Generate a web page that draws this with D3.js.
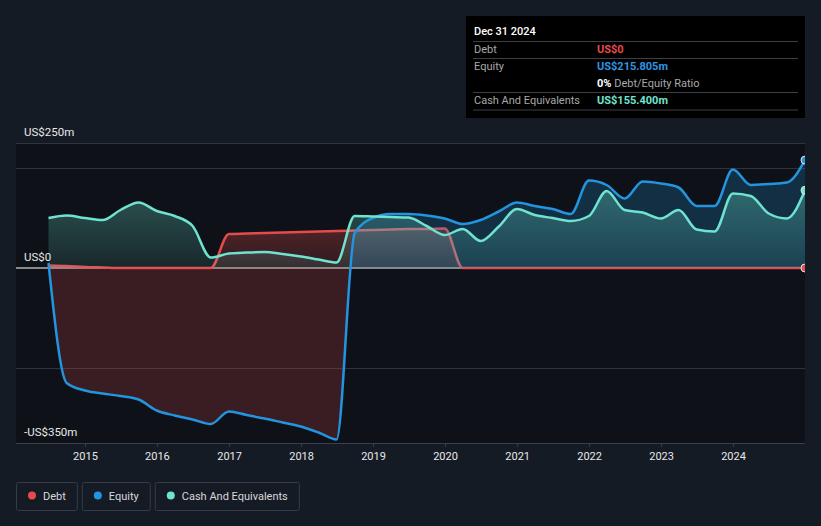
<!DOCTYPE html>
<meta charset="utf-8">
<script src="https://d3js.org/d3.v7.min.js"></script>
<style>
  html, body { margin: 0; padding: 0; background: #151b25; }
  svg { display: block; font-family: "Roboto", sans-serif; }
</style>
<div id="page"></div>
<script>

  // Quarter-end dates and the three series (US$ m)
  var dates = [
    "2014-06-30", "2014-09-30", "2014-12-31",
    "2015-03-31", "2015-06-30", "2015-09-30", "2015-12-31",
    "2016-03-31", "2016-06-30", "2016-09-30", "2016-12-31",
    "2017-03-31", "2017-06-30", "2017-09-30", "2017-12-31",
    "2018-03-31", "2018-06-30", "2018-09-30", "2018-12-31",
    "2019-03-31", "2019-06-30", "2019-09-30", "2019-12-31",
    "2020-03-31", "2020-06-30", "2020-09-30", "2020-12-31",
    "2021-03-31", "2021-06-30", "2021-09-30", "2021-12-31",
    "2022-03-31", "2022-06-30", "2022-09-30", "2022-12-31",
    "2023-03-31", "2023-06-30", "2023-09-30", "2023-12-31",
    "2024-03-31", "2024-06-30", "2024-09-30", "2024-12-31"
  ];

  var debt = [
    5, 4, 2,
    1, 0, 0, 0,
    0, 0, 0, 68,
    69, 70, 71, 72,
    73, 74, 75, 76,
    77, 78, 78, 79,
    0, 0, 0, 0,
    0, 0, 0, 0,
    0, 0, 0, 0,
    0, 0, 0, 0,
    0, 0, 0, 0
  ];

  var equity = [
    10, -230, -245,
    -251, -256, -263, -285,
    -295, -303, -312, -287,
    -294, -301, -309, -317,
    -329, -343, 70, 100,
    108, 108, 105, 99,
    88, 96, 113, 131,
    124, 118, 108, 175,
    166, 139, 173, 169,
    161, 124, 124, 197,
    166, 168, 171, 215.805
  ];

  var cash = [
    100, 105, 100,
    96, 116, 131, 114,
    104, 84, 21, 29,
    31, 32, 28, 23,
    17, 11, 104, 103,
    102, 101, 84, 66,
    78, 54, 83, 118,
    106, 100, 94, 104,
    154, 116, 111, 99,
    116, 77, 73, 149,
    144, 109, 99, 155.4
  ];

  var yGridValues = [250, 200, -200, -350];
  var yLabelValues = [250, 0, -350];
  var legendNames = ["Debt", "Equity", "Cash And Equivalents"];

  var colors = { debt: "#e64b4b", equity: "#2394df", cash: "#6fe3cf" };

  var W = 821, H = 526;
  var plot = { left: 16, right: 805, top: 143, bottom: 443 };

  var parse = d3.utcParse("%Y-%m-%d");
  var rows = dates.map(function (d, i) {
    return { date: parse(d), debt: debt[i], equity: equity[i], cash: cash[i] };
  });

  var x = d3.scaleUtc()
    .domain([parse(dates[0]), parse(dates[dates.length - 1])])
    .range([48.5, plot.right]);

  var y = d3.scaleLinear()
    .domain([-350, 250])
    .range([plot.bottom, plot.top]);

  var svg = d3.select("#page")
    .append("svg")
    .attr("width", W)
    .attr("height", H);

  var defs = svg.append("defs");

  defs.append("clipPath").attr("id", "plotClip")
    .append("rect")
    .attr("x", plot.left).attr("y", plot.top - 10)
    .attr("width", plot.right - plot.left).attr("height", plot.bottom - plot.top + 10);

  defs.append("clipPath").attr("id", "posClip")
    .append("rect")
    .attr("x", plot.left).attr("y", plot.top - 10)
    .attr("width", plot.right - plot.left).attr("height", y(0) - plot.top + 10);

  defs.append("clipPath").attr("id", "negClip")
    .append("rect")
    .attr("x", plot.left).attr("y", y(0))
    .attr("width", plot.right - plot.left).attr("height", plot.bottom - y(0));

  function gradient(id, color, top, bottom) {
    var g = defs.append("linearGradient").attr("id", id)
      .attr("x1", 0).attr("y1", 0).attr("x2", 0).attr("y2", 1);
    g.append("stop").attr("offset", "0%").attr("stop-color", color).attr("stop-opacity", top);
    g.append("stop").attr("offset", "100%").attr("stop-color", color).attr("stop-opacity", bottom);
  }
  gradient("cashGrad", colors.cash, 0.32, 0.1);
  gradient("debtGrad", colors.debt, 0.3, 0.15);

  // plot background
  svg.append("rect")
    .attr("x", plot.left).attr("y", plot.top)
    .attr("width", plot.right - plot.left).attr("height", plot.bottom - plot.top)
    .attr("fill", "#0e1218");

  // gridlines
  svg.append("g")
    .selectAll("line")
    .data(yGridValues)
    .enter()
    .append("line")
    .attr("x1", plot.left).attr("x2", plot.right)
    .attr("y1", function (d) { return y(d) + 0.5; })
    .attr("y2", function (d) { return y(d) + 0.5; })
    .attr("stroke", "#2e333c")
    .attr("stroke-width", 1);

  // zero line
  svg.append("line")
    .attr("x1", plot.left).attr("x2", plot.right)
    .attr("y1", y(0)).attr("y2", y(0))
    .attr("stroke", "#ffffff")
    .attr("stroke-width", 1.2);

  // y labels
  svg.append("g")
    .selectAll("text")
    .data(yLabelValues)
    .enter()
    .append("text")
    .attr("x", 24)
    .attr("y", function (d) { return y(d) - 7; })
    .attr("fill", "#e8e8e8")
    .attr("font-size", "11.5px")
    .text(function (d) {
      return d === 0 ? "US$0" : (d < 0 ? "-US$" + (-d) + "m" : "US$" + d + "m");
    });

  // x axis
  var xAxis = svg.append("g")
    .attr("transform", "translate(0," + plot.bottom + ")")
    .call(d3.axisBottom(x)
      .ticks(d3.utcYear.every(1))
      .tickFormat(d3.utcFormat("%Y"))
      .tickSize(4)
      .tickPadding(5));
  xAxis.select(".domain").remove();
  xAxis.selectAll(".tick line").attr("stroke", "#3a3f48");
  xAxis.selectAll(".tick text")
    .attr("fill", "#e8e8e8")
    .attr("font-size", "11px")
    .attr("font-family", "Roboto, sans-serif");
  svg.append("line")
    .attr("x1", plot.left).attr("x2", plot.right)
    .attr("y1", plot.bottom + 0.5).attr("y2", plot.bottom + 0.5)
    .attr("stroke", "#3a3f48");

  var series = svg.append("g").attr("clip-path", "url(#plotClip)");
  var curve = d3.curveMonotoneX;

  function area(key) {
    return d3.area().curve(curve)
      .x(function (d) { return x(d.date); })
      .y0(y(0))
      .y1(function (d) { return y(d[key]); });
  }
  function line(key) {
    return d3.line().curve(curve)
      .x(function (d) { return x(d.date); })
      .y(function (d) { return y(d[key]); });
  }

  // debt
  series.append("path").datum(rows)
    .attr("d", area("debt"))
    .attr("fill", "url(#debtGrad)");
  series.append("path").datum(rows)
    .attr("d", line("debt"))
    .attr("fill", "none").attr("stroke", colors.debt).attr("stroke-width", 2.5);

  // equity: blue above zero, red below
  series.append("path").datum(rows)
    .attr("d", area("equity"))
    .attr("clip-path", "url(#posClip)")
    .attr("fill", colors.equity).attr("fill-opacity", 0.22);
  series.append("path").datum(rows)
    .attr("d", area("equity"))
    .attr("clip-path", "url(#negClip)")
    .attr("fill", colors.debt).attr("fill-opacity", 0.2);

  // cash
  series.append("path").datum(rows)
    .attr("d", area("cash"))
    .attr("fill", "url(#cashGrad)");

  series.append("path").datum(rows)
    .attr("d", line("equity"))
    .attr("fill", "none").attr("stroke", colors.equity).attr("stroke-width", 2.5);
  series.append("path").datum(rows)
    .attr("d", line("cash"))
    .attr("fill", "none").attr("stroke", colors.cash).attr("stroke-width", 2.5);

  // end markers
  var last = rows[rows.length - 1];
  ["debt", "equity", "cash"].forEach(function (k) {
    series.append("circle")
      .attr("cx", x(last.date)).attr("cy", y(last[k]))
      .attr("r", 4)
      .attr("fill", colors[k])
      .attr("stroke", "#dfe8f0").attr("stroke-width", 1);
  });

  // tooltip box
  var tip = svg.append("g");
  tip.append("rect")
    .attr("x", 466).attr("y", 16).attr("width", 339).attr("height", 102)
    .attr("fill", "#000000");
  tip.append("text")
    .attr("x", 474).attr("y", 35)
    .attr("fill", "#ffffff").attr("font-size", "11px").attr("font-weight", 500)
    .text("Dec 31 2024");
  [41.5, 58.5, 92.5, 110].forEach(function (ly) {
    tip.append("line")
      .attr("x1", 473).attr("x2", 798)
      .attr("y1", ly).attr("y2", ly)
      .attr("stroke", "#3c3f44");
  });
  var tipRows = [
    { label: "Debt", value: "US$0", color: colors.debt, y: 53 },
    { label: "Equity", value: "US$215.805m", color: "#2f95e0", y: 70 },
    { label: "Cash And Equivalents", value: "US$155.400m", color: colors.cash, y: 104 }
  ];
  tipRows.forEach(function (r) {
    tip.append("text")
      .attr("x", 474).attr("y", r.y)
      .attr("fill", "#a8a8a8").attr("font-size", "11px")
      .text(r.label);
    tip.append("text")
      .attr("x", 597).attr("y", r.y)
      .attr("fill", r.color).attr("font-size", "11px").attr("font-weight", "bold")
      .text(r.value);
  });
  var ratio = tip.append("text")
    .attr("x", 597).attr("y", 87)
    .attr("font-size", "11px");
  ratio.append("tspan").attr("fill", "#ffffff").attr("font-weight", "bold").text("0%");
  ratio.append("tspan").attr("fill", "#a8a8a8").text(" Debt/Equity Ratio");

  // legend
  var legendColors = [colors.debt, colors.equity, colors.cash];
  var lx = 16;
  var legend = svg.append("g");
  legendNames.forEach(function (name, i) {
    var g = legend.append("g").attr("transform", "translate(" + lx + ",482)");
    var t = g.append("text")
      .attr("x", 27).attr("y", 17.5)
      .attr("fill", "#d8d8d8").attr("font-size", "11px")
      .text(name);
    var w = t.node().getComputedTextLength() + 27 + 11;
    g.insert("rect", "text")
      .attr("x", 0.5).attr("y", 0.5).attr("width", w).attr("height", 28)
      .attr("rx", 2)
      .attr("fill", "none").attr("stroke", "#363b45");
    g.append("circle")
      .attr("cx", 16).attr("cy", 13.5).attr("r", 4)
      .attr("fill", legendColors[i]);
    lx += w + 5;
  });

</script>
